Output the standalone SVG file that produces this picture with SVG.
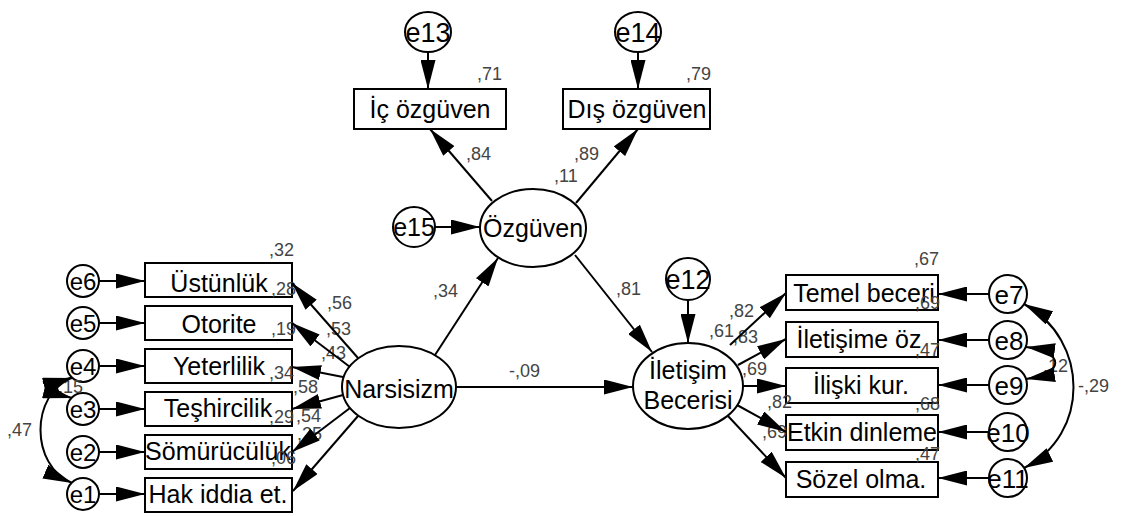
<svg xmlns="http://www.w3.org/2000/svg" width="1127" height="516" viewBox="0 0 1127 516">
<defs>
<style>
.box{fill:#fff;stroke:#000;stroke-width:2}
.lat{fill:#fff;stroke:#000;stroke-width:2}
.err{fill:#fff;stroke:#000;stroke-width:2}
.t{font-family:"Liberation Sans",Arial,sans-serif;font-size:25px;fill:#000;text-anchor:middle}
.te{font-family:"Liberation Sans",Arial,sans-serif;fill:#000;text-anchor:middle}
.n{font-family:"Liberation Sans",Arial,sans-serif;font-size:18px;fill:#444}
.c{fill:none;stroke:#000;stroke-width:2;marker-end:url(#ah)}
.cv{fill:none;stroke:#000;stroke-width:2;marker-end:url(#ah);marker-start:url(#ah)}
</style>
<marker id="ah" viewBox="0 0 29 15" refX="29" refY="7.5" markerWidth="29" markerHeight="15" markerUnits="userSpaceOnUse" orient="auto-start-reverse">
<path d="M0,0 L29,7.5 L0,15 z" fill="#000"/>
</marker>
</defs>
<rect width="1127" height="516" fill="#fff"/>

<!-- Latent variables -->
<g id="ozguven"><ellipse class="lat" cx="533" cy="228" rx="53" ry="39"/><text class="t" x="533" y="237">Özgüven</text></g>
<g id="narsisizm"><ellipse class="lat" cx="399" cy="387" rx="57" ry="41"/><text class="t" x="399" y="398">Narsisizm</text></g>
<g id="iletisim"><ellipse class="lat" cx="688" cy="386" rx="55" ry="43"/><text class="t" x="688" y="379">İletişim</text><text class="t" x="688" y="409">Becerisi</text></g>

<!-- Top indicators -->
<g id="ic"><rect class="box" x="354" y="89" width="152" height="40"/><text class="t" x="430" y="118">İç özgüven</text></g>
<g id="dis"><rect class="box" x="563" y="89" width="147" height="40"/><text class="t" x="637" y="118">Dış özgüven</text></g>

<!-- Left indicators -->
<g id="ustunluk"><rect class="box" x="145" y="263" width="147" height="34"/><text class="t" x="219" y="292">Üstünlük</text></g>
<g id="otorite"><rect class="box" x="145" y="306" width="147" height="34"/><text class="t" x="219" y="333">Otorite</text></g>
<g id="yeterlilik"><rect class="box" x="145" y="349" width="147" height="34"/><text class="t" x="219" y="375">Yeterlilik</text></g>
<g id="teshircilik"><rect class="box" x="145" y="392" width="147" height="34"/><text class="t" x="218" y="417">Teşhircilik</text></g>
<g id="somuruculuk"><rect class="box" x="145" y="435" width="147" height="34"/><text class="t" x="218" y="460">Sömürücülük</text></g>
<g id="hakiddia"><rect class="box" x="145" y="478" width="147" height="34"/><text class="t" x="218" y="503">Hak iddia et.</text></g>

<!-- Right indicators -->
<g id="temel"><rect class="box" x="786" y="275" width="152" height="35"/><text class="t" x="864" y="302">Temel beceri</text></g>
<g id="iletisimeoz"><rect class="box" x="786" y="322" width="152" height="35"/><text class="t" x="859" y="348">İletişime öz</text></g>
<g id="iliski"><rect class="box" x="786" y="368" width="152" height="35"/><text class="t" x="861" y="394">İlişki kur.</text></g>
<g id="etkin"><rect class="box" x="786" y="415" width="152" height="35"/><text class="t" x="862" y="441">Etkin dinleme</text></g>
<g id="sozel"><rect class="box" x="786" y="462" width="152" height="35"/><text class="t" x="861" y="488">Sözel olma.</text></g>

<!-- Error terms -->
<g id="e1"><ellipse class="err" cx="83" cy="494" rx="16" ry="16"/><text class="te" x="83" y="503" font-size="24">e1</text></g>
<g id="e2"><ellipse class="err" cx="83" cy="452" rx="16" ry="16"/><text class="te" x="83" y="461" font-size="24">e2</text></g>
<g id="e3"><ellipse class="err" cx="83" cy="409" rx="16" ry="16"/><text class="te" x="83" y="418" font-size="24">e3</text></g>
<g id="e4"><ellipse class="err" cx="83" cy="366" rx="16" ry="16"/><text class="te" x="83" y="375" font-size="24">e4</text></g>
<g id="e5"><ellipse class="err" cx="83" cy="323" rx="16" ry="16"/><text class="te" x="83" y="332" font-size="24">e5</text></g>
<g id="e6"><ellipse class="err" cx="83" cy="281" rx="16" ry="16"/><text class="te" x="83" y="290" font-size="24">e6</text></g>
<g id="e7"><ellipse class="err" cx="1008" cy="294" rx="19" ry="19"/><text class="te" x="1009" y="304" font-size="26">e7</text></g>
<g id="e8"><ellipse class="err" cx="1008" cy="340" rx="19" ry="19"/><text class="te" x="1009" y="350" font-size="26">e8</text></g>
<g id="e9"><ellipse class="err" cx="1008" cy="385" rx="19" ry="19"/><text class="te" x="1009" y="395" font-size="26">e9</text></g>
<g id="e10"><ellipse class="err" cx="1008" cy="432" rx="19" ry="19"/><text class="te" x="1008" y="442" font-size="26">e10</text></g>
<g id="e11"><ellipse class="err" cx="1008" cy="478" rx="19" ry="19"/><text class="te" x="1008" y="488" font-size="26">e11</text></g>
<g id="e12"><ellipse class="err" cx="688" cy="279" rx="22" ry="21"/><text class="te" x="688" y="289" font-size="27">e12</text></g>
<g id="e13"><ellipse class="err" cx="428" cy="32" rx="23" ry="20"/><text class="te" x="428" y="42" font-size="27">e13</text></g>
<g id="e14"><ellipse class="err" cx="638" cy="32" rx="23" ry="20"/><text class="te" x="638" y="42" font-size="27">e14</text></g>
<g id="e15"><ellipse class="err" cx="414" cy="227" rx="21" ry="20"/><text class="te" x="414" y="236" font-size="25">e15</text></g>

<!-- Estimates -->
<g id="labels">
<text class="n" x="477" y="80">,71</text>
<text class="n" x="686" y="80">,79</text>
<text class="n" x="466" y="160">,84</text>
<text class="n" x="574" y="160">,89</text>
<text class="n" x="554" y="182">,11</text>
<text class="n" x="433" y="297">,34</text>
<text class="n" x="616" y="295">,81</text>
<text class="n" x="509" y="377">-,09</text>
<text class="n" x="269" y="256">,32</text>
<text class="n" x="327" y="309">,56</text>
<text class="n" x="271" y="295">,28</text>
<text class="n" x="326" y="335">,53</text>
<text class="n" x="271" y="335">,19</text>
<text class="n" x="321" y="359">,43</text>
<text class="n" x="269" y="379">,34</text>
<text class="n" x="293" y="393">,58</text>
<text class="n" x="269" y="423">,29</text>
<text class="n" x="296" y="422">,54</text>
<text class="n" x="297" y="440">,25</text>
<text class="n" x="271" y="464">,06</text>
<text class="n" x="7" y="436">,47</text>
<text class="n" x="58" y="393">,15</text>
<text class="n" x="914" y="265">,67</text>
<text class="n" x="915" y="309">,69</text>
<text class="n" x="915" y="356">,47</text>
<text class="n" x="915" y="410">,68</text>
<text class="n" x="915" y="460">,47</text>
<text class="n" x="729" y="317">,82</text>
<text class="n" x="709" y="337">,61</text>
<text class="n" x="733" y="343">,83</text>
<text class="n" x="742" y="375">,69</text>
<text class="n" x="767" y="408">,82</text>
<text class="n" x="762" y="438">,69</text>
<text class="n" x="1043" y="372">,12</text>
<text class="n" x="1078" y="392">-,29</text>
</g>

<!-- Connectors -->
<g id="connectors">
<line class="c" x1="428" y1="52" x2="428" y2="89"/>
<line class="c" x1="638" y1="52" x2="638" y2="89"/>
<line class="c" x1="492" y1="201" x2="430" y2="129"/>
<line class="c" x1="576" y1="203" x2="638" y2="129"/>
<line class="c" x1="435" y1="227" x2="480" y2="227"/>
<line class="c" x1="435" y1="355" x2="498" y2="258"/>
<line class="c" x1="575" y1="255" x2="652" y2="352"/>
<line class="c" x1="456" y1="387" x2="633" y2="387"/>
<line class="c" x1="688" y1="300" x2="688" y2="343"/>
<line class="c" x1="358" y1="358" x2="292" y2="283"/>
<line class="c" x1="350" y1="367" x2="292" y2="323"/>
<line class="c" x1="343" y1="377" x2="292" y2="367"/>
<line class="c" x1="343" y1="395" x2="292" y2="409"/>
<line class="c" x1="350" y1="408" x2="292" y2="452"/>
<line class="c" x1="358" y1="416" x2="293" y2="491"/>
<line class="c" x1="99" y1="281" x2="145" y2="281"/>
<line class="c" x1="99" y1="323" x2="145" y2="323"/>
<line class="c" x1="99" y1="366" x2="145" y2="366"/>
<line class="c" x1="99" y1="409" x2="145" y2="409"/>
<line class="c" x1="99" y1="452" x2="145" y2="452"/>
<line class="c" x1="99" y1="494" x2="145" y2="494"/>
<line class="c" x1="730" y1="345" x2="786" y2="293"/>
<line class="c" x1="738" y1="365" x2="786" y2="339"/>
<line class="c" x1="743" y1="386" x2="786" y2="386"/>
<line class="c" x1="737" y1="405" x2="786" y2="432"/>
<line class="c" x1="728" y1="416" x2="786" y2="478"/>
<line class="c" x1="989" y1="294" x2="938" y2="294"/>
<line class="c" x1="989" y1="340" x2="938" y2="340"/>
<line class="c" x1="989" y1="385" x2="938" y2="385"/>
<line class="c" x1="989" y1="432" x2="938" y2="432"/>
<line class="c" x1="989" y1="478" x2="938" y2="478"/>
<path class="cv" d="M72,377 C30,395 30,465 72,483"/>
<path class="cv" d="M72,378 C52,383 52,393 72,398"/>
<path class="cv" d="M1024,304 C1090,340 1090,435 1024,468"/>
<path class="cv" d="M1026,347 C1065,352 1065,373 1026,379"/>
</g>
</svg>
